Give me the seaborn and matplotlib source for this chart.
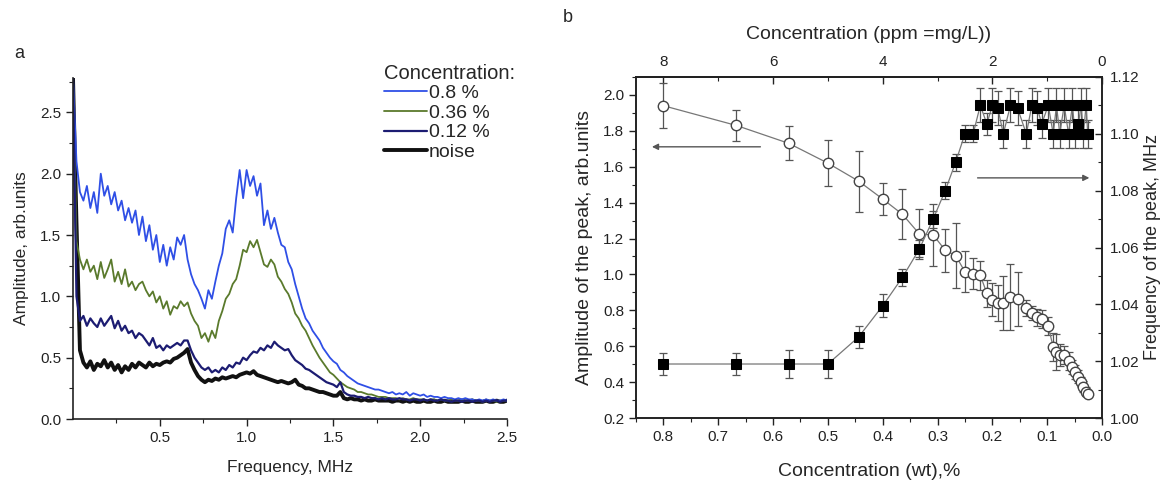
import numpy as np
import matplotlib
matplotlib.use("Agg")
import matplotlib.pyplot as plt
import seaborn as sns
from matplotlib.ticker import MultipleLocator, FixedLocator, FormatStrFormatter

sns.set_theme(style="ticks")
plt.rcParams['font.family'] = ['Liberation Sans', 'DejaVu Sans']

# ---------------- Panel a: spectra ----------------
freq_mhz = np.round(np.arange(0, 2.5001, 0.02), 2)   # sampling grid, 0.02 MHz

amp_08 = [
    2.78, 2.10, 1.85, 1.78, 1.90, 1.72, 1.85, 1.68, 2.00, 1.82,
    1.90, 1.75, 1.85, 1.70, 1.78, 1.62, 1.72, 1.60, 1.70, 1.50,
    1.65, 1.45, 1.58, 1.38, 1.50, 1.28, 1.42, 1.25, 1.40, 1.30,
    1.48, 1.42, 1.50, 1.30, 1.18, 1.10, 1.05, 0.98, 0.90, 1.05,
    0.98, 1.12, 1.25, 1.35, 1.55, 1.62, 1.52, 1.80, 2.03, 1.80,
    2.03, 1.90, 1.98, 1.82, 1.92, 1.58, 1.70, 1.55, 1.64, 1.52,
    1.42, 1.40, 1.28, 1.22, 1.10, 1.00, 0.90, 0.82, 0.78, 0.72,
    0.68, 0.64, 0.58, 0.54, 0.50, 0.47, 0.45, 0.40, 0.38, 0.35,
    0.33, 0.31, 0.29, 0.28, 0.27, 0.26, 0.25, 0.24, 0.24, 0.23,
    0.22, 0.21, 0.22, 0.20, 0.21, 0.20, 0.22, 0.19, 0.21, 0.20,
    0.19, 0.20, 0.18, 0.19, 0.18, 0.18, 0.17, 0.18, 0.17, 0.17,
    0.16, 0.17, 0.16, 0.17, 0.16, 0.16, 0.15, 0.16, 0.15, 0.16,
    0.15, 0.16, 0.15, 0.15, 0.16, 0.15,
]
amp_036 = [
    2.78, 1.45, 1.30, 1.22, 1.30, 1.20, 1.25, 1.14, 1.28, 1.15,
    1.22, 1.30, 1.12, 1.20, 1.10, 1.22, 1.08, 1.12, 1.05, 1.10,
    1.12, 1.05, 1.00, 1.04, 0.95, 1.00, 0.90, 0.96, 0.85, 0.92,
    0.90, 0.96, 0.92, 0.95, 0.86, 0.80, 0.76, 0.66, 0.70, 0.63,
    0.72, 0.66, 0.80, 0.88, 0.98, 1.02, 1.10, 1.14, 1.25, 1.38,
    1.36, 1.45, 1.40, 1.46, 1.36, 1.26, 1.24, 1.30, 1.26, 1.16,
    1.12, 1.06, 1.02, 0.95, 0.86, 0.82, 0.76, 0.72, 0.66, 0.60,
    0.55, 0.50, 0.46, 0.42, 0.38, 0.36, 0.33, 0.30, 0.28, 0.26,
    0.25, 0.24, 0.22, 0.22, 0.21, 0.20, 0.20, 0.19, 0.18, 0.18,
    0.18, 0.17, 0.17, 0.17, 0.16, 0.17, 0.16, 0.16, 0.17, 0.16,
    0.16, 0.16, 0.15, 0.16, 0.16, 0.15, 0.16, 0.15, 0.15, 0.16,
    0.15, 0.15, 0.16, 0.15, 0.15, 0.16, 0.15, 0.15, 0.14, 0.15,
    0.15, 0.15, 0.14, 0.15, 0.15, 0.15,
]
amp_012 = [
    2.78, 1.00, 0.80, 0.84, 0.76, 0.82, 0.78, 0.75, 0.82, 0.76,
    0.80, 0.84, 0.74, 0.80, 0.72, 0.76, 0.70, 0.72, 0.66, 0.70,
    0.68, 0.64, 0.60, 0.66, 0.58, 0.60, 0.56, 0.60, 0.58, 0.60,
    0.62, 0.60, 0.64, 0.64, 0.56, 0.50, 0.46, 0.42, 0.40, 0.42,
    0.38, 0.40, 0.38, 0.42, 0.40, 0.44, 0.42, 0.46, 0.45, 0.50,
    0.48, 0.52, 0.55, 0.54, 0.58, 0.56, 0.60, 0.58, 0.63, 0.60,
    0.58, 0.56, 0.57, 0.52, 0.48, 0.46, 0.44, 0.41, 0.40, 0.38,
    0.36, 0.34, 0.32, 0.30, 0.29, 0.28, 0.26, 0.30, 0.22, 0.20,
    0.19, 0.19, 0.18, 0.18, 0.17, 0.18, 0.17, 0.17, 0.16, 0.17,
    0.16, 0.17, 0.16, 0.16, 0.17, 0.16, 0.16, 0.15, 0.16, 0.16,
    0.15, 0.16, 0.15, 0.16, 0.15, 0.15, 0.16, 0.15, 0.15, 0.14,
    0.15, 0.15, 0.14, 0.15, 0.15, 0.14, 0.15, 0.15, 0.14, 0.15,
    0.14, 0.15, 0.15, 0.14, 0.15, 0.15,
]
amp_noise = [
    2.78, 1.60, 0.56, 0.46, 0.42, 0.47, 0.40, 0.45, 0.43, 0.48,
    0.42, 0.46, 0.40, 0.44, 0.38, 0.43, 0.40, 0.45, 0.42, 0.46,
    0.44, 0.42, 0.46, 0.43, 0.45, 0.44, 0.46, 0.47, 0.46, 0.49,
    0.50, 0.52, 0.54, 0.57, 0.46, 0.40, 0.35, 0.32, 0.30, 0.32,
    0.31, 0.33, 0.32, 0.34, 0.33, 0.34, 0.35, 0.34, 0.36, 0.37,
    0.38, 0.37, 0.39, 0.36, 0.35, 0.34, 0.33, 0.32, 0.31, 0.30,
    0.31, 0.30, 0.29, 0.30, 0.32, 0.28, 0.27, 0.25, 0.25, 0.24,
    0.23, 0.22, 0.22, 0.21, 0.20, 0.19, 0.19, 0.22, 0.17, 0.16,
    0.17, 0.16, 0.16, 0.15, 0.16, 0.15, 0.15, 0.16, 0.15, 0.15,
    0.15, 0.15, 0.14, 0.15, 0.15, 0.14, 0.15, 0.14, 0.15, 0.14,
    0.14, 0.15, 0.14, 0.14, 0.15, 0.14, 0.14, 0.15, 0.14, 0.14,
    0.14, 0.14, 0.15, 0.14, 0.14, 0.15, 0.14, 0.14, 0.14, 0.15,
    0.14, 0.14, 0.15, 0.14, 0.14, 0.15,
]
series_labels = ["0.8 %", "0.36 %", "0.12 %", "noise"]

# ---------------- Panel b: peak amplitude / frequency vs concentration ----------------
conc_wt = [0.800, 0.667, 0.571, 0.500, 0.444, 0.400, 0.364, 0.333, 0.308, 0.286,
           0.267, 0.250, 0.235, 0.222, 0.210, 0.200, 0.190, 0.180, 0.167, 0.154,
           0.138, 0.128, 0.118, 0.110, 0.098, 0.089, 0.083, 0.077, 0.069, 0.061,
           0.054, 0.049, 0.043, 0.038, 0.034, 0.029, 0.026]
peak_amp = [1.94, 1.83, 1.73, 1.62, 1.52, 1.42, 1.335, 1.225, 1.22, 1.135,
            1.105, 1.015, 1.005, 0.995, 0.895, 0.86, 0.84, 0.84, 0.875, 0.865,
            0.815, 0.785, 0.76, 0.75, 0.71, 0.595, 0.57, 0.55, 0.55, 0.515,
            0.485, 0.455, 0.43, 0.40, 0.375, 0.345, 0.335]
peak_amp_err = [0.125, 0.085, 0.095, 0.13, 0.17, 0.09, 0.14, 0.14, 0.175, 0.12,
                0.18, 0.115, 0.085, 0.08, 0.075, 0.09, 0.10, 0.15, 0.185, 0.15,
                0.045, 0.04, 0.045, 0.05, 0.05, 0.08, 0.10, 0.06, 0.05, 0.05,
                0.04, 0.04, 0.035, 0.03, 0.03, 0.025, 0.02]
peak_freq = [1.019, 1.019, 1.019, 1.019, 1.0285, 1.0395, 1.0495, 1.0595, 1.070, 1.080,
             1.090, 1.100, 1.100, 1.110, 1.1035, 1.110, 1.109, 1.100, 1.110, 1.109,
             1.100, 1.110, 1.109, 1.1035, 1.110, 1.100, 1.110, 1.100, 1.110, 1.100,
             1.110, 1.100, 1.1035, 1.110, 1.100, 1.110, 1.100]
peak_freq_err = [0.004, 0.004, 0.005, 0.005, 0.004, 0.004, 0.003, 0.003, 0.003, 0.003,
                 0.003, 0.003, 0.003, 0.006, 0.004, 0.006, 0.006, 0.005, 0.006, 0.006,
                 0.005, 0.006, 0.006, 0.005, 0.006, 0.005, 0.006, 0.005, 0.006, 0.005,
                 0.006, 0.005, 0.005, 0.006, 0.005, 0.006, 0.005]

W, H = 1164, 486
fig = plt.figure(figsize=(W / 100, H / 100), dpi=100)
fig.patch.set_facecolor('white')

TICK_FS = 11
LAB_A = 12.5
LAB_B = 14

# ---- panel a ----
axa = fig.add_axes([73 / W, 67 / H, 434 / W, 341 / H])
colors = {"0.8 %": "#2f4fe6", "0.36 %": "#5a7a2c", "0.12 %": "#1c1c72", "noise": "#111111"}
widths = {"0.8 %": 1.3, "0.36 %": 1.3, "0.12 %": 1.6, "noise": 2.8}
data = {"0.8 %": amp_08, "0.36 %": amp_036, "0.12 %": amp_012, "noise": amp_noise}
for lab in ["noise", "0.36 %", "0.8 %", "0.12 %"]:
    sns.lineplot(x=freq_mhz, y=np.array(data[lab]), ax=axa, color=colors[lab],
                 lw=widths[lab], label=lab, sort=False)
axa.set_xlim(0, 2.5)
axa.set_ylim(0, 2.78)
axa.xaxis.set_major_locator(FixedLocator([0.5, 1.0, 1.5, 2.0, 2.5]))
axa.xaxis.set_minor_locator(FixedLocator([0.25, 0.75, 1.25, 1.75, 2.25]))
axa.yaxis.set_major_locator(MultipleLocator(0.5))
axa.yaxis.set_minor_locator(MultipleLocator(0.25))
axa.xaxis.set_major_formatter(FormatStrFormatter('%.1f'))
axa.yaxis.set_major_formatter(FormatStrFormatter('%.1f'))
axa.tick_params(axis='both', which='major', direction='out', length=5, width=1,
                labelsize=TICK_FS, colors='#222222')
axa.tick_params(axis='both', which='minor', direction='out', length=3, width=0.8, colors='#222222')
sns.despine(ax=axa)
for s in ['left', 'bottom']:
    axa.spines[s].set_linewidth(1.2)
    axa.spines[s].set_color('#222222')
axa.set_xlabel("Frequency, MHz", fontsize=LAB_A, labelpad=11)
axa.set_ylabel("Amplitude, arb.units", fontsize=LAB_A, labelpad=8)

h, l = axa.get_legend_handles_labels()
order = [l.index(s) for s in series_labels]
leg = axa.legend([h[i] for i in order], [l[i] for i in order], title="Concentration:",
                 loc='upper left', bbox_to_anchor=(374 / W, 1 - 54 / H),
                 bbox_transform=fig.transFigure, frameon=False, fontsize=14,
                 title_fontsize=14.5, handlelength=2.2, handletextpad=0.12,
                 labelspacing=0.1, borderpad=0, alignment='left')

fig.text(14 / W, 1 - 58 / H, "a", fontsize=13)

# ---- panel b ----
axb = fig.add_axes([636 / W, 68 / H, 466 / W, 341 / H])
axb.errorbar(conc_wt, peak_amp, yerr=peak_amp_err, fmt='none', ecolor='#555555',
             elinewidth=0.9, capsize=3, capthick=0.9, zorder=2)
sns.lineplot(x=conc_wt, y=peak_amp, ax=axb, sort=False, color='#777777', lw=0.9,
             marker='o', markersize=7.5, markerfacecolor='white',
             markeredgecolor='#444444', markeredgewidth=1.0, zorder=3)
axb.set_xlim(0.85, 0.0)
axb.set_ylim(0.2, 2.1)
axb.xaxis.set_major_locator(MultipleLocator(0.1))
axb.xaxis.set_minor_locator(MultipleLocator(0.05))
axb.yaxis.set_major_locator(MultipleLocator(0.2))
axb.yaxis.set_minor_locator(MultipleLocator(0.1))
axb.xaxis.set_major_formatter(FormatStrFormatter('%.1f'))
axb.yaxis.set_major_formatter(FormatStrFormatter('%.1f'))
axb.tick_params(axis='both', which='major', direction='out', length=5, width=1,
                labelsize=TICK_FS, colors='#222222', top=False, right=False)
axb.tick_params(axis='both', which='minor', direction='out', length=3, width=0.8,
                colors='#222222', top=False, right=False)
for s in axb.spines.values():
    s.set_linewidth(1.2)
    s.set_color('#222222')
axb.set_xlabel("Concentration (wt),%", fontsize=LAB_B, labelpad=14)
axb.set_ylabel("Amplitude of the peak, arb.units", fontsize=LAB_B, labelpad=7)

axb.annotate('', xy=(0.826, 1.711), xytext=(0.618, 1.711),
             arrowprops=dict(arrowstyle='-|>', color='#555555', lw=1.0, mutation_scale=9))

ax2 = axb.twinx()
ax2.errorbar(conc_wt, peak_freq, yerr=peak_freq_err, fmt='none', ecolor='#555555',
             elinewidth=0.9, capsize=3, capthick=0.9, zorder=2)
sns.lineplot(x=conc_wt, y=peak_freq, ax=ax2, sort=False, color='#777777', lw=0.9,
             marker='s', markersize=6.5, markerfacecolor='black',
             markeredgecolor='black', zorder=3)
ax2.set_ylim(1.00, 1.12)
ax2.yaxis.set_major_locator(MultipleLocator(0.02))
ax2.yaxis.set_minor_locator(MultipleLocator(0.01))
ax2.yaxis.set_major_formatter(FormatStrFormatter('%.2f'))
ax2.tick_params(axis='y', which='major', direction='in', length=5, width=1,
                labelsize=TICK_FS, colors='#222222', pad=6)
ax2.tick_params(axis='y', which='minor', direction='in', length=3, width=0.8, colors='#222222')
ax2.set_ylabel("Frequency of the peak, MHz", fontsize=13, labelpad=3)
for s in ax2.spines.values():
    s.set_linewidth(1.2)
    s.set_color('#222222')
ax2.annotate('', xy=(0.018, 1.0845), xytext=(0.232, 1.0845),
             arrowprops=dict(arrowstyle='-|>', color='#555555', lw=1.0, mutation_scale=9))

sec = axb.secondary_xaxis('top', functions=(lambda x: x * 10, lambda x: x / 10))
sec.xaxis.set_major_locator(FixedLocator([0, 2, 4, 6, 8]))
sec.xaxis.set_minor_locator(FixedLocator([1, 3, 5, 7]))
sec.tick_params(axis='x', which='major', direction='in', length=5, width=1,
                labelsize=TICK_FS, colors='#222222', pad=6)
sec.tick_params(axis='x', which='minor', direction='in', length=3, width=0.8, colors='#222222')
sec.set_xlabel("Concentration (ppm =mg/L))", fontsize=LAB_B, labelpad=11)

fig.text(563 / W, 1 - 22 / H, "b", fontsize=13)

fig.savefig("out.png", dpi=100, facecolor='white')
